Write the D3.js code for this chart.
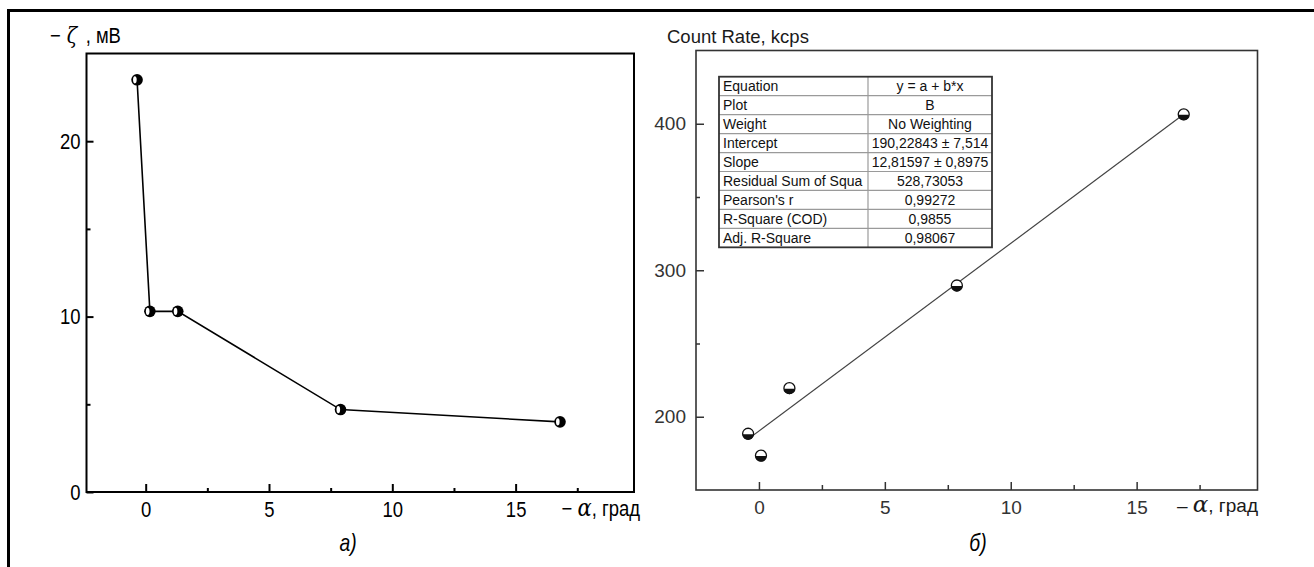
<!DOCTYPE html>
<html>
<head>
<meta charset="utf-8">
<script src="https://cdn.jsdelivr.net/npm/d3@7"></script>
<style>
  body { margin: 0; background: #fff; }
  svg { display: block; }
  .sans { font-family: "Liberation Sans", Arial, sans-serif; }
</style>
</head>
<body>
<script>
// data
var alphaA = [-0.35, 0.17, 1.3, 7.9, 16.8];
var zeta = [23.5, 10.3, 10.3, 4.7, 4.0];

var alphaB = [-0.43, 0.08, 1.21, 7.86, 16.87];
var countRate = [188.4, 173.5, 219.5, 289.6, 406.4];

var intercept = 190.22843;
var slope = 12.81597;

var xTicks = [0, 5, 10, 15];
var xMinor = [2.5, 7.5, 12.5, 17.5];
var yTicksA = [0, 10, 20];
var yMinorA = [5, 15];
var yTicksB = [200, 300, 400];
var yMinorB = [250, 350];

var tableNames = ["Equation", "Plot", "Weight", "Intercept", "Slope",
  "Residual Sum of Squa", "Pearson's r", "R-Square (COD)", "Adj. R-Square"];
var tableValues = ["y = a + b*x", "B", "No Weighting", "190,22843 \u00b1 7,514",
  "12,81597 \u00b1 0,8975", "528,73053", "0,99272", "0,9855", "0,98067"];

var squeeze = 0.84; // the left panel uses a condensed face

var svg = d3.select("body").append("svg")
  .attr("width", 1314)
  .attr("height", 567);

svg.append("rect").attr("width", 1314).attr("height", 567).attr("fill", "#fff");

// frame lines (top and left only)
svg.append("line").attr("x1", 7).attr("x2", 1314).attr("y1", 10.5).attr("y2", 10.5)
  .attr("stroke", "#000").attr("stroke-width", 3);
svg.append("line").attr("x1", 8.5).attr("x2", 8.5).attr("y1", 9).attr("y2", 567)
  .attr("stroke", "#000").attr("stroke-width", 3);

function styleAxis(g, color, width) {
  g.select(".domain").remove();
  g.selectAll("line").attr("stroke", color).attr("stroke-width", width);
  g.selectAll("text").attr("class", "sans").attr("fill", color);
}

function narrowText(parent, x, y, size, anchor) {
  return parent.append("text").attr("class", "sans")
    .attr("transform", "translate(" + x + "," + y + ") scale(" + squeeze + ",1)")
    .attr("font-size", size).attr("text-anchor", anchor || "start");
}

// ---------- chart a ----------
var xa = d3.scaleLinear().domain([-2.4, 19.8]).range([86.5, 634]);
var ya = d3.scaleLinear().domain([0, 25]).range([492, 53.5]);

var ga = svg.append("g");

ga.append("g").attr("transform", "translate(0," + ya(0) + ")")
  .call(d3.axisBottom(xa).tickValues(xTicks).tickSize(-8).tickSizeOuter(0).tickPadding(9))
  .call(styleAxis, "#000", 2)
  .selectAll("text").attr("font-size", 22).attr("transform", "scale(" + squeeze + ",1)");
ga.append("g").attr("transform", "translate(0," + ya(0) + ")")
  .call(d3.axisBottom(xa).tickValues(xMinor).tickSize(-4).tickSizeOuter(0).tickFormat(""))
  .call(styleAxis, "#000", 2);
ga.append("g").attr("transform", "translate(" + xa(-2.4) + ",0)")
  .call(d3.axisLeft(ya).tickValues(yTicksA).tickSize(-7).tickSizeOuter(0).tickPadding(6 / squeeze))
  .call(styleAxis, "#000", 2)
  .selectAll("text").attr("font-size", 22).attr("transform", "scale(" + squeeze + ",1)");
ga.append("g").attr("transform", "translate(" + xa(-2.4) + ",0)")
  .call(d3.axisLeft(ya).tickValues(yMinorA).tickSize(-4).tickSizeOuter(0).tickFormat(""))
  .call(styleAxis, "#000", 2);

ga.append("rect")
  .attr("x", xa(-2.4)).attr("y", ya(25))
  .attr("width", xa(19.8) - xa(-2.4)).attr("height", ya(0) - ya(25))
  .attr("fill", "none").attr("stroke", "#000").attr("stroke-width", 2);

var ptsA = alphaA.map(function(d, i) { return [d, zeta[i]]; });

ga.append("path")
  .datum(ptsA)
  .attr("d", d3.line().x(function(d) { return xa(d[0]); }).y(function(d) { return ya(d[1]); }))
  .attr("fill", "none").attr("stroke", "#000").attr("stroke-width", 1.6);

var mA = ga.selectAll("g.mk").data(ptsA).enter().append("g")
  .attr("transform", function(d) { return "translate(" + xa(d[0]) + "," + ya(d[1]) + ")"; });
mA.append("circle").attr("r", 5.8).attr("fill", "#000");
mA.append("ellipse").attr("cx", -2.2).attr("cy", 0).attr("rx", 1.8).attr("ry", 3.6).attr("fill", "#fff");

var tA = narrowText(ga, 50, 43, 22);
tA.append("tspan").text("\u2212");
tA.append("tspan").attr("font-family", "DejaVu Serif").attr("font-style", "italic")
  .attr("font-size", 23).attr("dx", 7).text("\u03b6");
tA.append("tspan").attr("dx", 4).text(" ,  \u043c\u0412");

var xlA = narrowText(ga, 640, 516, 22, "end");
xlA.append("tspan").text("\u2212  ");
xlA.append("tspan").attr("font-family", "DejaVu Serif").attr("font-style", "italic").attr("font-size", 25).text("\u03b1");
xlA.append("tspan").text(", \u0433\u0440\u0430\u0434");

narrowText(ga, 348, 551, 23, "middle").attr("font-style", "italic").text("\u0430)");

// ---------- chart b ----------
var xb = d3.scaleLinear().domain([-2.5, 19.8]).range([696, 1257.5]);
var yb = d3.scaleLinear().domain([150, 450]).range([490, 50.5]);

var gb = svg.append("g");
var gray = "#333";

gb.append("g").attr("transform", "translate(0," + yb(150) + ")")
  .call(d3.axisBottom(xb).tickValues(xTicks).tickSize(-8).tickSizeOuter(0).tickPadding(11))
  .call(styleAxis, gray, 1.5)
  .selectAll("text").attr("font-size", 19);
gb.append("g").attr("transform", "translate(0," + yb(150) + ")")
  .call(d3.axisBottom(xb).tickValues(xMinor).tickSize(-5).tickSizeOuter(0).tickFormat(""))
  .call(styleAxis, gray, 1.5);
gb.append("g").attr("transform", "translate(" + xb(-2.5) + ",0)")
  .call(d3.axisLeft(yb).tickValues(yTicksB).tickSize(-8).tickSizeOuter(0).tickPadding(10))
  .call(styleAxis, gray, 1.5)
  .selectAll("text").attr("font-size", 19);
gb.append("g").attr("transform", "translate(" + xb(-2.5) + ",0)")
  .call(d3.axisLeft(yb).tickValues(yMinorB).tickSize(-4).tickSizeOuter(0).tickFormat(""))
  .call(styleAxis, gray, 1.5);

gb.append("rect")
  .attr("x", xb(-2.5)).attr("y", yb(450))
  .attr("width", xb(19.8) - xb(-2.5)).attr("height", yb(150) - yb(450))
  .attr("fill", "none").attr("stroke", gray).attr("stroke-width", 1.6);

// fit line from the table's parameters
var fx = d3.extent(alphaB);
gb.append("line")
  .attr("x1", xb(fx[0])).attr("y1", yb(intercept + slope * fx[0]))
  .attr("x2", xb(fx[1])).attr("y2", yb(intercept + slope * fx[1]))
  .attr("stroke", "#444").attr("stroke-width", 1.2);

var ptsB = alphaB.map(function(d, i) { return [d, countRate[i]]; });
var r = 5.5;
var mB = gb.selectAll("g.mk").data(ptsB).enter().append("g")
  .attr("transform", function(d) { return "translate(" + xb(d[0]) + "," + yb(d[1]) + ")"; });
mB.append("circle").attr("r", r).attr("fill", "#fff").attr("stroke", "#111").attr("stroke-width", 1.3);
mB.append("path")
  .attr("d", "M" + (-r) + ",0.5 A" + r + "," + r + " 0 0,0 " + r + ",0.5 Z")
  .attr("fill", "#111");

// table
var tx = 719, ty = 76.7, tw = 273, rowH = 18.96, colX = 868;
var tg = gb.append("g");
tg.selectAll("line.row").data(d3.range(1, tableNames.length)).enter().append("line")
  .attr("x1", tx).attr("x2", tx + tw)
  .attr("y1", function(d) { return ty + d * rowH; })
  .attr("y2", function(d) { return ty + d * rowH; })
  .attr("stroke", "#9a9a9a").attr("stroke-width", 1.2);
tg.append("line").attr("x1", colX).attr("x2", colX).attr("y1", ty).attr("y2", ty + rowH * tableNames.length)
  .attr("stroke", "#9a9a9a").attr("stroke-width", 1.2);
tg.append("rect").attr("x", tx).attr("y", ty).attr("width", tw).attr("height", rowH * tableNames.length)
  .attr("fill", "none").attr("stroke", "#333").attr("stroke-width", 1.8);
tg.selectAll("text.name").data(tableNames).enter().append("text")
  .attr("class", "sans").attr("font-size", 14).attr("fill", "#111")
  .attr("x", tx + 4).attr("y", function(d, i) { return ty + i * rowH + rowH / 2 + 5; })
  .text(function(d) { return d; });
tg.selectAll("text.val").data(tableValues).enter().append("text")
  .attr("class", "sans").attr("font-size", 14).attr("fill", "#111").attr("text-anchor", "middle")
  .attr("x", (colX + tx + tw) / 2).attr("y", function(d, i) { return ty + i * rowH + rowH / 2 + 5; })
  .text(function(d) { return d; });

gb.append("text").attr("class", "sans").attr("x", 667).attr("y", 43).attr("font-size", 18.5)
  .attr("fill", "#1a1a1a").text("Count Rate, kcps");

var xlB = gb.append("text").attr("class", "sans").attr("x", 1258).attr("y", 512)
  .attr("text-anchor", "end").attr("font-size", 19).attr("fill", "#1a1a1a");
xlB.append("tspan").text("\u2013 ");
xlB.append("tspan").attr("font-family", "DejaVu Serif").attr("font-style", "italic").attr("font-size", 23).text("\u03b1");
xlB.append("tspan").text(", \u0433\u0440\u0430\u0434");

narrowText(gb, 978, 551, 23, "middle").attr("font-style", "italic").text("\u0431)");
</script>
</body>
</html>
